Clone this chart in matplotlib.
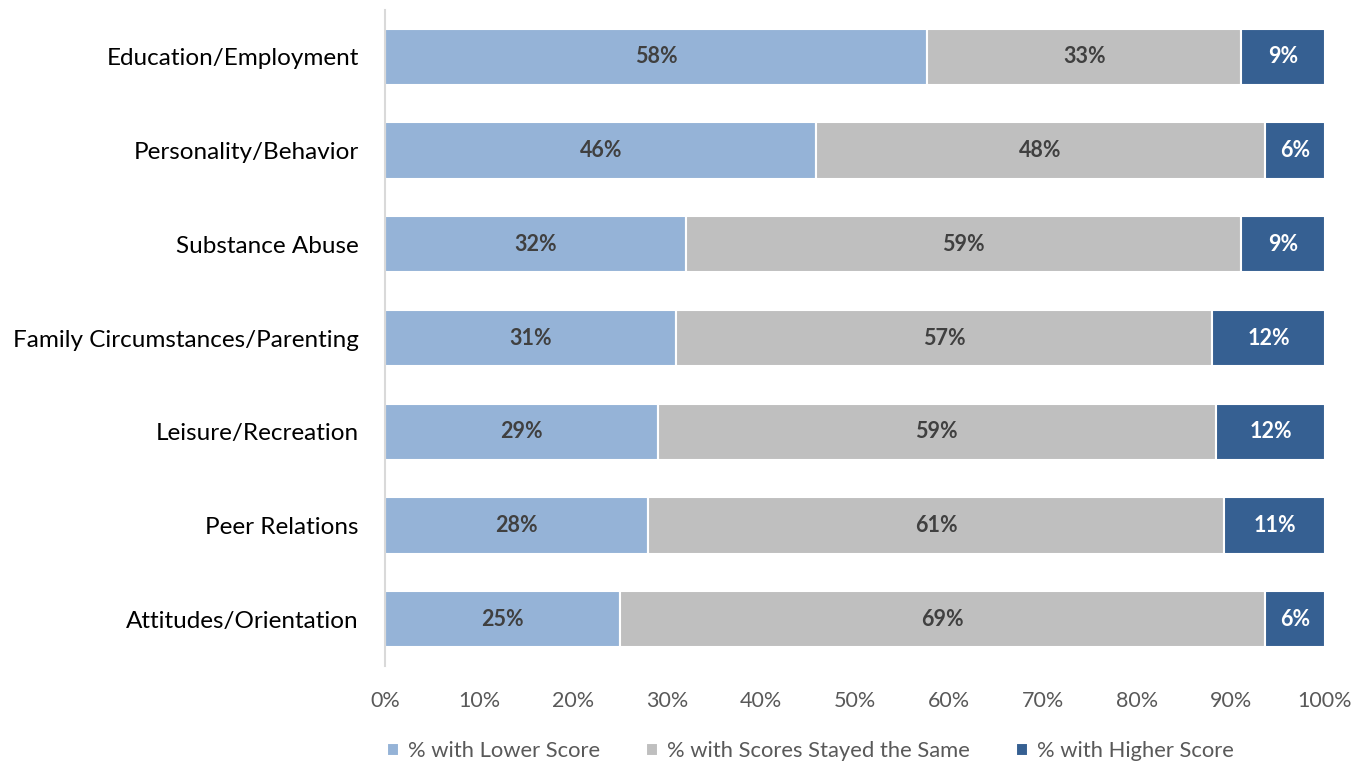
import matplotlib
matplotlib.use("Agg")
import matplotlib.pyplot as plt
import numpy as np

categories = [
    "Education/Employment",
    "Personality/Behavior",
    "Substance Abuse",
    "Family Circumstances/Parenting",
    "Leisure/Recreation",
    "Peer Relations",
    "Attitudes/Orientation",
]
lower = [57.7, 45.9, 32.0, 31.0, 29.0, 28.0, 25.0]
same = [33.4, 47.7, 59.1, 57.0, 59.4, 61.3, 68.6]
higher = [8.9, 6.4, 8.9, 12.0, 11.6, 10.7, 6.4]
series_names = [
    "% with Lower Score",
    "% with Scores Stayed the Same",
    "% with Higher Score",
]
colors = ["#95B3D7", "#BFBFBF", "#366092"]
label_colors = ["#404040", "#404040", "#FFFFFF"]
xticks = [0, 10, 20, 30, 40, 50, 60, 70, 80, 90, 100]

plt.rcParams["font.family"] = ["Lato", "DejaVu Sans"]

fig = plt.figure(figsize=(13.64, 7.64), dpi=100)
ax = fig.add_axes([0.2823, 0.128, 0.6891, 0.859])

y = np.arange(len(categories))
left = np.zeros(len(categories))
for vals, name, col, lcol in zip([lower, same, higher], series_names, colors, label_colors):
    vals = np.array(vals)
    ax.barh(y, vals, left=left, height=0.6, color=col, edgecolor="white",
            linewidth=1.5, label=name)
    for yi, l, v in zip(y, left, vals):
        ax.text(l + v / 2, yi, f"{v:.0f}%", ha="center", va="center",
                fontsize=15.5, fontweight="bold", color=lcol)
    left = left + vals

ax.set_ylim(len(categories) - 0.5, -0.5)
ax.set_xlim(0, 100)
ax.set_yticks(y)
ax.set_yticklabels(categories, fontsize=17.5, color="#000000")
ax.set_xticks(xticks)
ax.set_xticklabels([f"{t}%" for t in xticks], fontsize=15.5, color="#595959")
ax.tick_params(axis="both", length=0)
ax.tick_params(axis="y", pad=19)
ax.tick_params(axis="x", pad=18)
for s in ["top", "right", "bottom"]:
    ax.spines[s].set_visible(False)
ax.spines["left"].set_color("#D9D9D9")
ax.spines["left"].set_linewidth(1.5)

handles, labels = ax.get_legend_handles_labels()
fig.legend(handles, labels, loc="center", bbox_to_anchor=(0.594, 0.017),
           ncol=3, frameon=False, fontsize=15.8, handlelength=0.55, handleheight=0.55,
           handletextpad=0.4, columnspacing=2.1, labelcolor="#595959")

fig.savefig("out.png", dpi=100, facecolor="white")
